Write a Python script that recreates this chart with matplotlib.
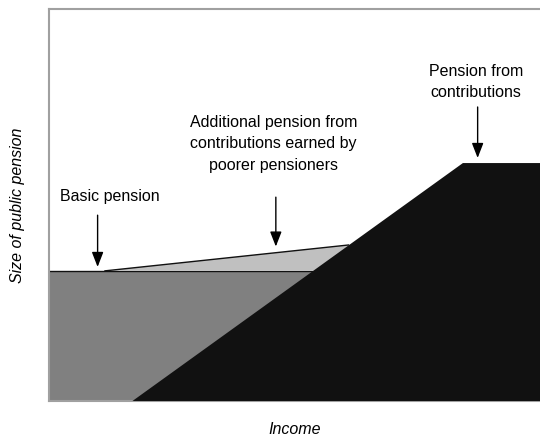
import matplotlib.pyplot as plt

plt.rcParams['font.family'] = ['Liberation Sans', 'DejaVu Sans']

# contributory pension (black area)
contrib_x = [0, 17, 84.3, 100]
contrib_y = [0, 0, 60.7, 60.7]

# basic pension level
basic_level = 33.2

# top-up line for poorer pensioners (light grey wedge)
topup_x = [11.4, 61.0]
topup_y = [33.2, 39.8]

fig = plt.figure(figsize=(5.4, 4.37), dpi=100)
ax = fig.add_axes([49 / 540, 1 - 401 / 437, 491 / 540, 392 / 437])
ax.set_xlim(0, 100)
ax.set_ylim(0, 100)

# basic pension rectangle
ax.fill([0, 100, 100, 0], [0, 0, basic_level, basic_level],
        color='#808080', lw=0, zorder=1)
ax.plot([0, 100], [basic_level, basic_level], color='#111111', lw=1.0, zorder=2)

# additional pension wedge
ax.fill([topup_x[0], topup_x[1], topup_x[1]],
        [topup_y[0], topup_y[1], basic_level],
        color='#c0c0c0', lw=0, zorder=2)
ax.plot(topup_x, topup_y, color='#111111', lw=1.0, zorder=3)

# pension from contributions
ax.fill(contrib_x + [100], contrib_y + [0], color='#111111', lw=0, zorder=4)

ax.spines['right'].set_visible(False)
for s in ['left', 'top', 'bottom']:
    ax.spines[s].set_color('#a0a0a0')
    ax.spines[s].set_linewidth(1.5)
ax.set_xticks([])
ax.set_yticks([])

arrow = dict(arrowstyle='-|>,head_width=0.35,head_length=0.9',
             color='black', lw=1.0, shrinkA=0, shrinkB=0)
fs = 11.5

ax.annotate('', xy=(9.9, 34.2), xytext=(9.9, 47.4), arrowprops=arrow)
ax.text(12.4, 52.2, 'Basic pension', ha='center', va='center', fontsize=fs)

ax.annotate('', xy=(46.2, 39.4), xytext=(46.2, 52.0), arrowprops=arrow)
ax.text(45.7, 65.6, 'Additional pension from\ncontributions earned by\npoorer pensioners',
        ha='center', va='center', fontsize=fs, linespacing=1.55)

ax.annotate('', xy=(87.3, 62.0), xytext=(87.3, 75.0), arrowprops=arrow)
ax.text(86.9, 81.4, 'Pension from\ncontributions', ha='center', va='center',
        fontsize=fs, linespacing=1.55)

ax.set_xlabel('Income', fontsize=fs, style='italic', labelpad=15)
ax.set_ylabel('Size of public pension', fontsize=fs, style='italic', labelpad=17)

fig.savefig('out.png', dpi=100)
